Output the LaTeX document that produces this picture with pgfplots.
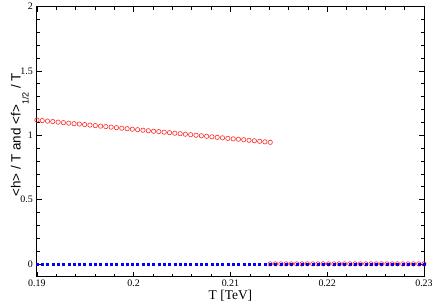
\documentclass[border=0pt]{standalone}
\usepackage{fontspec}
\setmainfont{Liberation Serif}
\newfontfamily\labsans{Liberation Sans}
\usepackage{pgfplots}
\pgfplotsset{compat=1.18}
\begin{document}
\begin{tikzpicture}
\begin{axis}[
  width=389pt, height=271.5pt, scale only axis,
  xmin=0.19, xmax=0.23, ymin=-0.1, ymax=2,
  xtick={0.19,0.2,0.21,0.22,0.23},
  xticklabels={0.19,0.2,0.21,0.22,0.23},
  ytick={0,0.5,1,1.5,2},
  yticklabels={0,0.5,1,1.5,2},
  minor x tick num=4, minor y tick num=4,
  tick align=inside, major tick length=5pt, minor tick length=3pt,
  tick style={black, line width=0.6pt},
  axis line style={line width=0.9pt},
  ticklabel style={font=\fontsize{10}{11}\selectfont},
  /pgf/number format/assume math mode=true,
  xticklabel style={yshift=0pt},
  yticklabel style={xshift=-0.5pt},
  xlabel={T [TeV]},
  xlabel style={font=\fontsize{13.5}{15}\selectfont, at={(axis description cs:0.5,-0.085)}, anchor=base},
  ylabel={\labsans <h> / T and <f>\raisebox{-8pt}{\fontsize{9}{10}\selectfont 1/2} / T},
  ylabel style={font=\fontsize{13.5}{16}\selectfont, at={(axis description cs:-0.042,0.525)}, anchor=base, inner xsep=0pt, inner ysep=11pt},
  clip=false,
]
% red circles: nonzero branch
\addplot[only marks, mark=o, mark size=2.2pt, color=red!85!white, mark options={line width=0.6pt}] coordinates {
(0.19000,1.118) (0.19055,1.114) (0.19110,1.110) (0.19164,1.106) (0.19219,1.102)
(0.19274,1.098) (0.19329,1.094) (0.19384,1.090) (0.19438,1.087) (0.19493,1.083)
(0.19548,1.079) (0.19603,1.075) (0.19658,1.071) (0.19712,1.067) (0.19767,1.063)
(0.19822,1.059) (0.19877,1.055) (0.19932,1.051) (0.19986,1.047) (0.20041,1.043)
(0.20096,1.039) (0.20151,1.035) (0.20206,1.031) (0.20260,1.028) (0.20315,1.024)
(0.20370,1.020) (0.20425,1.016) (0.20480,1.012) (0.20534,1.008) (0.20589,1.004)
(0.20644,1.000) (0.20699,0.996) (0.20754,0.992) (0.20808,0.988) (0.20863,0.984)
(0.20918,0.980) (0.20973,0.976) (0.21028,0.972) (0.21082,0.969) (0.21137,0.965)
(0.21192,0.961) (0.21247,0.957) (0.21302,0.953) (0.21356,0.949) (0.21411,0.945)
};
% red circles: zero branch
\addplot[only marks, mark=o, mark size=2.2pt, color=red!85!white, mark options={line width=0.6pt}] coordinates {
(0.21411,0) (0.21466,0) (0.21521,0) (0.21576,0) (0.21630,0) (0.21685,0)
(0.21740,0) (0.21795,0) (0.21850,0) (0.21904,0) (0.21959,0) (0.22014,0)
(0.22069,0) (0.22124,0) (0.22178,0) (0.22233,0) (0.22288,0) (0.22343,0)
(0.22398,0) (0.22452,0) (0.22507,0) (0.22562,0) (0.22617,0) (0.22672,0)
(0.22726,0) (0.22781,0) (0.22836,0) (0.22891,0) (0.22946,0) (0.23000,0)
};
% blue dots
\addplot[only marks, mark=square*, mark size=1.0pt, color=blue] coordinates {
(0.19000,0) (0.19055,0) (0.19110,0) (0.19164,0) (0.19219,0) (0.19274,0)
(0.19329,0) (0.19384,0) (0.19438,0) (0.19493,0) (0.19548,0) (0.19603,0)
(0.19658,0) (0.19712,0) (0.19767,0) (0.19822,0) (0.19877,0) (0.19932,0)
(0.19986,0) (0.20041,0) (0.20096,0) (0.20151,0) (0.20206,0) (0.20260,0)
(0.20315,0) (0.20370,0) (0.20425,0) (0.20480,0) (0.20534,0) (0.20589,0)
(0.20644,0) (0.20699,0) (0.20754,0) (0.20808,0) (0.20863,0) (0.20918,0)
(0.20973,0) (0.21028,0) (0.21082,0) (0.21137,0) (0.21192,0) (0.21247,0)
(0.21302,0) (0.21356,0) (0.21411,0) (0.21466,0) (0.21521,0) (0.21576,0)
(0.21630,0) (0.21685,0) (0.21740,0) (0.21795,0) (0.21850,0) (0.21904,0)
(0.21959,0) (0.22014,0) (0.22069,0) (0.22124,0) (0.22178,0) (0.22233,0)
(0.22288,0) (0.22343,0) (0.22398,0) (0.22452,0) (0.22507,0) (0.22562,0)
(0.22617,0) (0.22672,0) (0.22726,0) (0.22781,0) (0.22836,0) (0.22891,0)
(0.22946,0) (0.23000,0)
};
\end{axis}
\end{tikzpicture}
\end{document}
